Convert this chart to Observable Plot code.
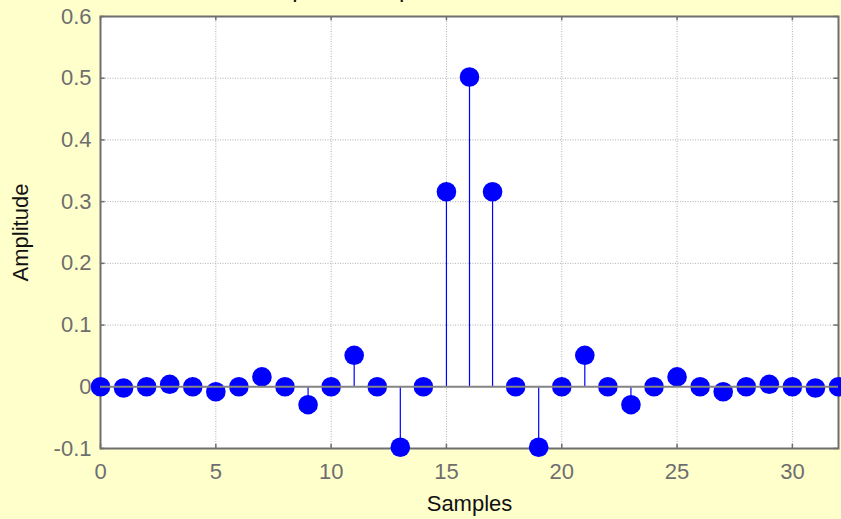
<!DOCTYPE html>
<html>
<head>
<meta charset="utf-8">
<script src="https://cdn.jsdelivr.net/npm/d3@7"></script>
<script src="https://cdn.jsdelivr.net/npm/@observablehq/plot@0.6"></script>
<style>
  html, body { margin: 0; padding: 0; background: #ffffcc; overflow: hidden; }
  svg { display: block; }
</style>
</head>
<body>
<div id="chart"></div>
<script>
const titleText = "Impulse Response";
const xLabel = "Samples";
const yLabel = "Amplitude";
const samples = [0,1,2,3,4,5,6,7,8,9,10,11,12,13,14,15,16,17,18,19,20,21,22,23,24,25,26,27,28,29,30,31,32];
const amplitude = [0, -0.002, 0, 0.004, 0, -0.008, 0, 0.016, 0, -0.029, 0, 0.051, 0, -0.098, 0, 0.316, 0.502, 0.316, 0, -0.098, 0, 0.051, 0, -0.029, 0, 0.016, 0, -0.008, 0, 0.004, 0, -0.002, 0];
const xTicks = [0, 5, 10, 15, 20, 25, 30];
const yTicks = [-0.1, 0, 0.1, 0.2, 0.3, 0.4, 0.5, 0.6];
const yTickLabels = ["-0.1", "0", "0.1", "0.2", "0.3", "0.4", "0.5", "0.6"];

const data = samples.map((s, i) => ({x: s, y: amplitude[i]}));
const gray = "#6e6e6e";

const chart = Plot.plot({
  width: 841,
  height: 519,
  marginLeft: 100,
  marginRight: 3,
  marginTop: 16,
  marginBottom: 71,
  style: {background: "#ffffcc", fontFamily: "'Liberation Sans', Arial, sans-serif"},
  x: {domain: [0, 32]},
  y: {domain: [-0.1, 0.6]},
  marks: [
    Plot.frame({fill: "white", stroke: "none"}),
    Plot.ruleX(xTicks, {stroke: "#b0b0b0", strokeDasharray: "1,1.5", strokeWidth: 1}),
    Plot.ruleY(yTicks, {stroke: "#b0b0b0", strokeDasharray: "1,1.5", strokeWidth: 1}),
    Plot.ruleX(xTicks, {x: d => d, y1: -0.1, y2: -0.093, stroke: gray, strokeWidth: 1.5}),
    Plot.ruleX(xTicks, {x: d => d, y1: 0.6, y2: 0.593, stroke: gray, strokeWidth: 1.5}),
    Plot.ruleY(yTicks, {y: d => d, x1: 0, x2: 0.2, stroke: gray, strokeWidth: 1.5}),
    Plot.ruleY(yTicks, {y: d => d, x1: 32, x2: 31.8, stroke: gray, strokeWidth: 1.5}),
    Plot.frame({stroke: gray, strokeWidth: 2}),
    Plot.ruleX(data, {x: "x", y1: 0, y2: "y", stroke: "#0000ff", strokeWidth: 1.2}),
    Plot.dot(data, {x: "x", y: "y", r: 9.8, fill: "#0000ff", stroke: "none"}),
    Plot.ruleY([0], {stroke: "#858585", strokeWidth: 2}),
    Plot.axisX({ticks: xTicks, tickSize: 0, tickPadding: 15, fontSize: 22, color: gray, label: null, tickFormat: d => String(d)}),
    Plot.axisY({ticks: yTicks, tickSize: 0, tickPadding: 9, fontSize: 22, color: gray, label: null, tickFormat: (d, i) => yTickLabels[i]}),
    Plot.text([xLabel], {frameAnchor: "bottom", dy: 62, fontSize: 22, fill: "#111"}),
    Plot.text([yLabel], {frameAnchor: "left", dx: -80, rotate: -90, textAnchor: "middle", fontSize: 22, fill: "#111"})
  ]
});
document.getElementById("chart").appendChild(chart);

d3.select(chart).append("text")
  .attr("x", 365).attr("y", -3)
  .attr("font-size", 24)
  .attr("fill", "#111")
  .attr("font-family", "'Liberation Sans', Arial, sans-serif")
  .text(titleText);
</script>
</body>
</html>
